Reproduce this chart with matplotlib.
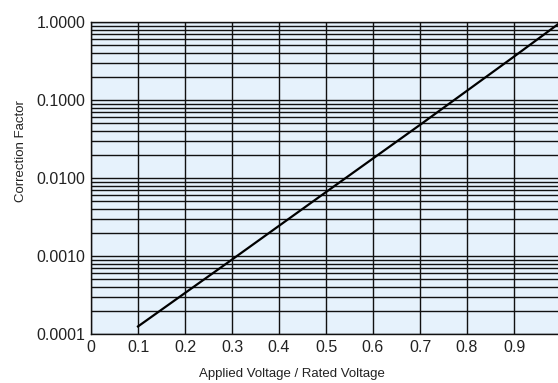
import matplotlib
matplotlib.use("Agg")
import matplotlib.pyplot as plt
from matplotlib.ticker import FixedLocator, FixedFormatter, LogLocator, NullFormatter

plt.rcParams['font.family'] = ['Liberation Sans', 'DejaVu Sans']

# data
ratio = [0.1, 0.3, 0.5, 0.7, 0.9, 1.0]
factor = [0.000125, 0.0009, 0.0066, 0.048, 0.36, 1.0]

x_ticks = [0, 0.1, 0.2, 0.3, 0.4, 0.5, 0.6, 0.7, 0.8, 0.9, 1.0]
x_labels = ['0', '0.1', '0.2', '0.3', '0.4', '0.5', '0.6', '0.7', '0.8', '0.9', '1']
y_ticks = [0.0001, 0.001, 0.01, 0.1, 1.0]
y_labels = ['0.0001', '0.0010', '0.0100', '0.1000', '1.0000']

fig = plt.figure(figsize=(5.58, 3.83), dpi=100)
ax = fig.add_axes([91/558, 49/383, 470/558, 312/383])
ax.set_facecolor('#e6f2fc')
ax.set_yscale('log')
ax.set_xlim(0, 1)
ax.set_ylim(0.0001, 1.0)

ax.xaxis.set_major_locator(FixedLocator(x_ticks))
ax.xaxis.set_major_formatter(FixedFormatter(x_labels))
ax.yaxis.set_major_locator(FixedLocator(y_ticks))
ax.yaxis.set_major_formatter(FixedFormatter(y_labels))
ax.yaxis.set_minor_locator(LogLocator(base=10, subs=range(2, 10)))
ax.yaxis.set_minor_formatter(NullFormatter())

ax.grid(True, which='major', axis='both', color='#111111', linewidth=1.0)
ax.grid(True, which='minor', axis='y', color='#111111', linewidth=1.0)
ax.set_axisbelow(True)

ax.tick_params(axis='both', which='both', length=0, labelsize=11.5, colors='#222222')
ax.tick_params(axis='y', pad=4)
ax.tick_params(axis='x', pad=4)

for s in ['left', 'bottom', 'top']:
    ax.spines[s].set_color('#111111')
    ax.spines[s].set_linewidth(1.0)
ax.spines['right'].set_visible(False)

ax.plot(ratio, factor, color='black', linewidth=1.6, zorder=3)

ax.set_xlabel('Applied Voltage / Rated Voltage', fontsize=9.5, color='#222222')
ax.xaxis.set_label_coords(0.427, -0.11)
ax.set_ylabel('Correction Factor', fontsize=9.5, color='#222222')
ax.yaxis.set_label_coords(-0.137, 0.585)

fig.savefig('out.png', dpi=100)
